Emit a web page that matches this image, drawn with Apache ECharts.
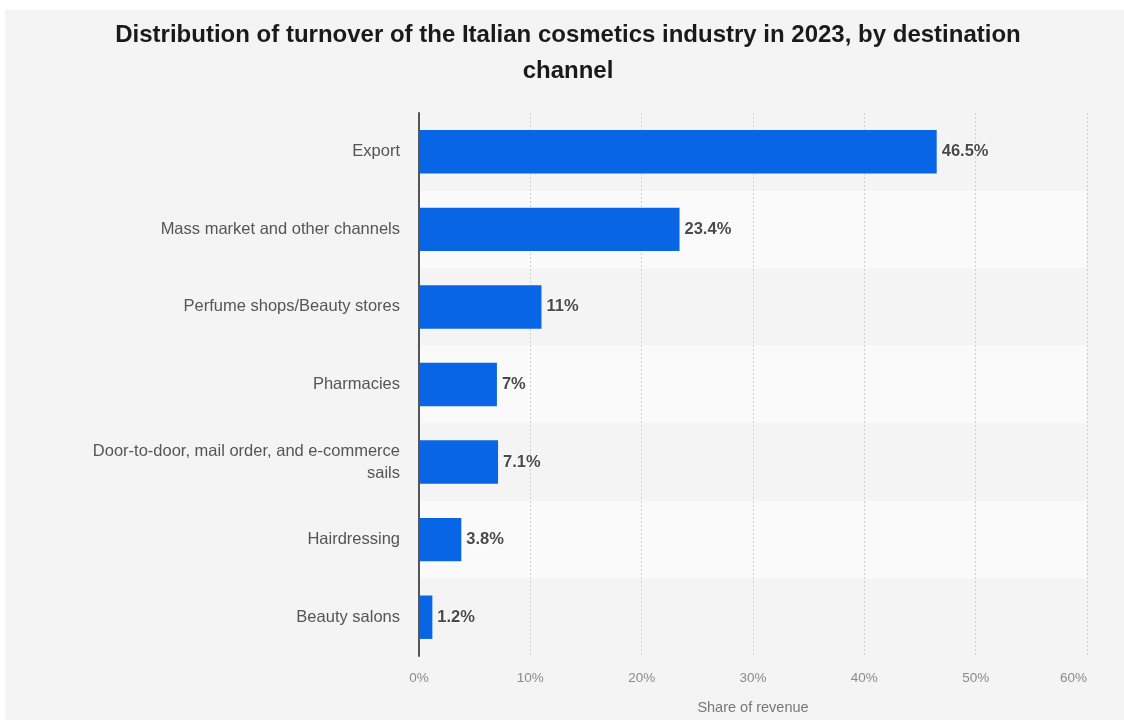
<!DOCTYPE html>
<html>
<head>
<meta charset="utf-8">
<script src="https://cdn.jsdelivr.net/npm/echarts@6/dist/echarts.min.js"></script>
<style>
  html, body { margin: 0; padding: 0; background: #ffffff; width: 1124px; height: 720px; overflow: hidden; }
  #chart { position: absolute; left: 5px; top: 10px; width: 1119px; height: 710px; }
</style>
</head>
<body>
<div id="chart"></div>
<script>
// Destination channels and their share of turnover (%)
const channels = [
  'Export',
  'Mass market and other channels',
  'Perfume shops/Beauty stores',
  'Pharmacies',
  'Door-to-door, mail order, and e-commerce\nsails',
  'Hairdressing',
  'Beauty salons'
];
const shares = [46.5, 23.4, 11, 7, 7.1, 3.8, 1.2];
const xTicks = [0, 10, 20, 30, 40, 50, 60];

const FONT = 'Liberation Sans, Arial, sans-serif';
const chart = echarts.init(document.getElementById('chart'), null, { renderer: 'canvas' });

chart.setOption({
  backgroundColor: '#f4f4f4',
  animation: false,
  title: {
    text: 'Distribution of turnover of the Italian cosmetics industry in 2023, by destination\nchannel',
    left: 563,
    top: 7,
    padding: 0,
    textAlign: 'center',
    textStyle: {
      fontFamily: FONT,
      fontSize: 24,
      fontWeight: 'bold',
      color: '#1a1a1a',
      lineHeight: 36
    }
  },
  grid: { left: 414, right: 37, top: 103, bottom: 58, containLabel: false },
  xAxis: {
    type: 'value',
    min: xTicks[0],
    max: xTicks[xTicks.length - 1],
    interval: 10,
    name: 'Share of revenue',
    nameLocation: 'middle',
    nameGap: 44,
    nameTextStyle: { fontFamily: FONT, fontSize: 14.5, color: '#777' },
    axisLine: { show: false },
    axisTick: { show: false },
    axisLabel: {
      formatter: v => v + '%',
      fontFamily: FONT,
      fontSize: 13.5,
      color: '#8a8a8a',
      margin: 15,
      alignMaxLabel: 'right'
    },
    splitLine: { show: true, lineStyle: { color: '#cfcfcf', type: [2, 2], width: 1 } }
  },
  yAxis: {
    type: 'category',
    data: channels,
    inverse: true,
    axisLine: { show: true, lineStyle: { color: '#555', width: 2 } },
    axisTick: { show: false },
    axisLabel: {
      fontFamily: FONT,
      fontSize: 16.5,
      color: '#555',
      margin: 19,
      lineHeight: 22,
      align: 'right'
    },
    splitArea: { show: true, areaStyle: { color: ['#f4f4f4', '#fafafa'] } }
  },
  series: [{
    type: 'bar',
    data: shares,
    barWidth: '56%',
    itemStyle: { color: '#0866e6' },
    label: {
      show: true,
      position: 'right',
      distance: 5,
      formatter: p => p.value + '%',
      fontFamily: FONT,
      fontSize: 16.5,
      fontWeight: 'bold',
      color: '#4a4a4a',
      textBorderColor: 'rgba(255,255,255,0.6)',
      textBorderWidth: 2
    }
  }]
});
</script>
</body>
</html>
